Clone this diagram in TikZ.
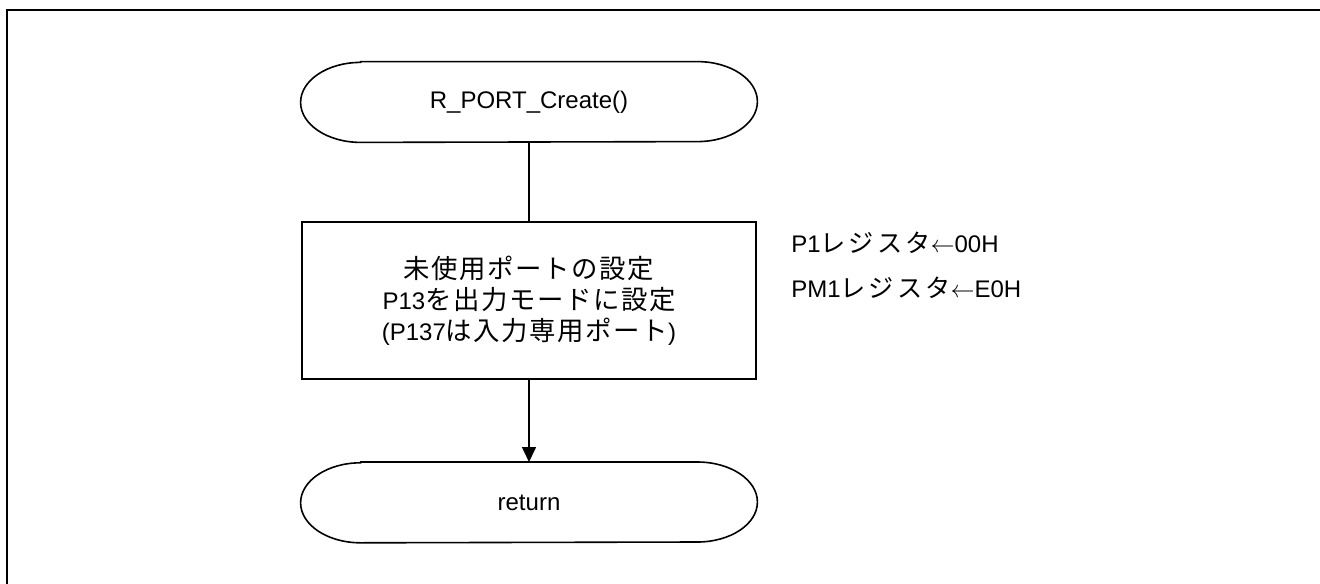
\documentclass[tikz,border=0pt]{standalone}
\usepackage{fontspec}
\setmainfont{Liberation Sans}
\newfontfamily\jpbox[Scale=1.1, LetterSpace=6]{Noto Sans CJK JP}
\newfontfamily\jpreg[Scale=1.05, LetterSpace=12]{Noto Sans CJK JP}
\usetikzlibrary{arrows.meta, positioning}
\tikzset{
x=0.5pt, y=-0.5pt, % one unit is one pixel of the reference
flow/.style={line width=0.8pt}, % lines of the chart
term/.style={minimum width=228pt, minimum height=40pt, inner sep=0pt}, % start / end
proc/.style={draw, flow, minimum width=227pt, minimum height=78.5pt, align=center, inner sep=0pt}, % process box
note/.style={anchor=west, inner sep=0pt}, % register notes
}
% outline of a start / end node
\newcommand{\termedge}[1]{%
  \draw[flow] ([xshift=30pt]#1.north west) -- ([xshift=-30pt]#1.north east)
    arc[start angle=90, end angle=-90, x radius=30pt, y radius=20pt]
    -- ([xshift=30pt]#1.south west)
    arc[start angle=270, end angle=90, x radius=30pt, y radius=20pt] -- cycle;}

\begin{document}
\begin{tikzpicture}[font=\fontsize{12pt}{15.5pt}\selectfont]
    \useasboundingbox (0,0) rectangle (1320,583);
    \clip (0,0) rectangle (1320,583);
    \draw[line width=1.1pt] (7,10) rectangle (1340,600);

    \node[term] (start) at (529,102) {R\_PORT\_Create()};
    \node[proc, below=39.5pt of start] (init)
        {{\jpbox 未使用ポートの設定}\\
         P13{\jpbox を出力モードに設定}\\
         (P137{\jpbox は入力専用ポート})};
    \node[term, below=41pt of init] (ret) {return};
    \termedge{start}
    \termedge{ret}

    \node[note] (p1) at (791,243) {P1{\jpreg レジスタ}$\leftarrow$00H};
    \node[note] (pm1) at (791,288) {PM1{\jpreg レジスタ}$\leftarrow$E0H};

    \draw[flow] (start) -- (init);
    \draw[flow, -{Triangle[length=7.5pt, width=7pt]}] (init) -- (ret);
\end{tikzpicture}
\end{document}
